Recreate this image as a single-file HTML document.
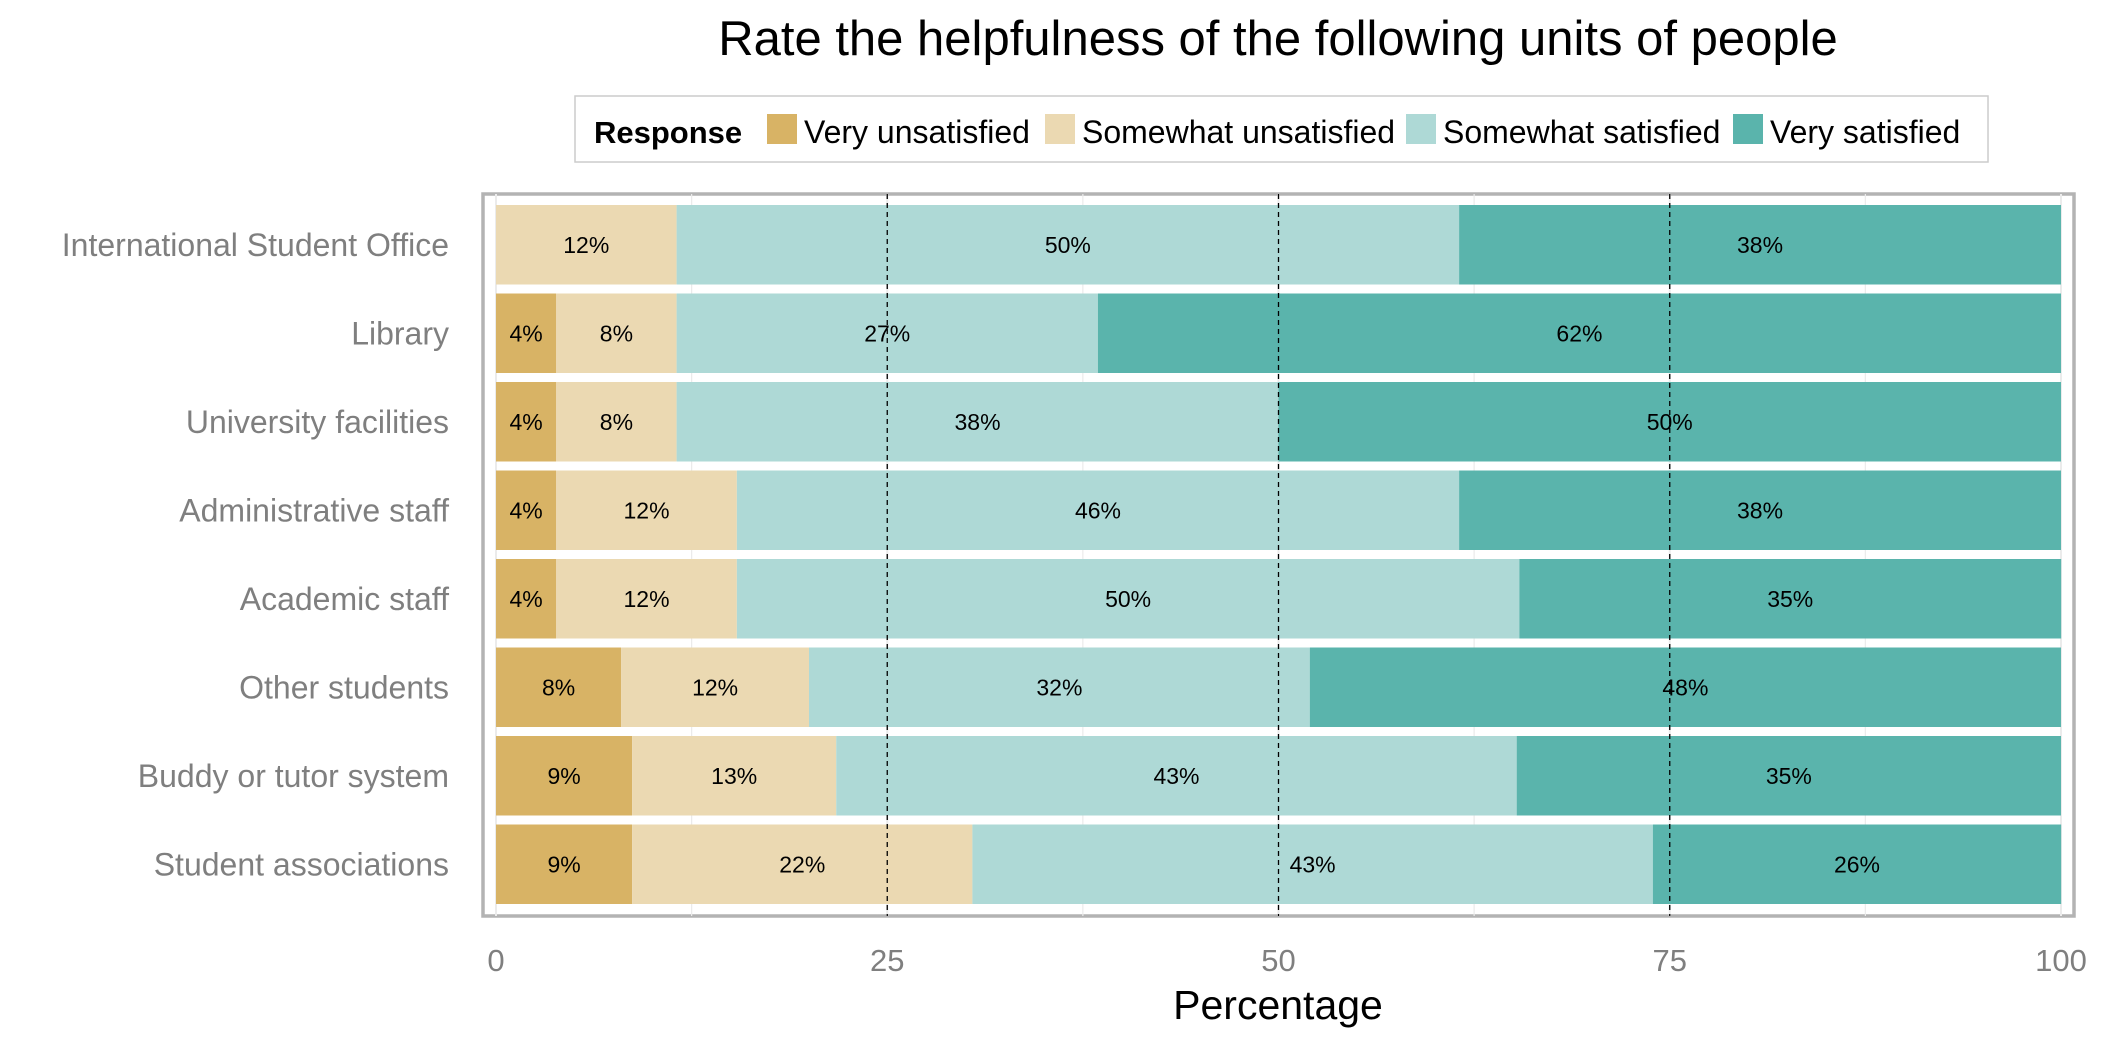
<!DOCTYPE html>
<html><head><meta charset="utf-8"><style>
html,body{margin:0;padding:0;background:#fff;}
svg{display:block;font-family:"Liberation Sans",Arial,sans-serif;}
</style></head><body>
<svg id="chart" width="2125" height="1051" viewBox="0 0 2125 1051">
<text x="1278" y="55" font-size="49" text-anchor="middle" fill="#000">Rate the helpfulness of the following units of people</text>
<g>
<rect x="575" y="96" width="1413" height="66" fill="#fff" stroke="#ccc" stroke-width="1.5"/>
<text x="594" y="143" font-size="31" font-weight="bold">Response</text>
</g>
<g id="panel"></g>
</svg>
<script>
const categories = ["International Student Office","Library","University facilities","Administrative staff","Academic staff","Other students","Buddy or tutor system","Student associations"];
const seriesNames = ["Very unsatisfied","Somewhat unsatisfied","Somewhat satisfied","Very satisfied"];
const veryUnsatisfied = [0, 3.85, 3.85, 3.85, 3.85, 8.0, 8.7, 8.7];
const somewhatUnsatisfied = [11.54, 7.69, 7.69, 11.54, 11.54, 12.0, 13.04, 21.74];
const somewhatSatisfied = [50.0, 26.92, 38.46, 46.15, 50.0, 32.0, 43.48, 43.48];
const verySatisfied = [38.46, 61.54, 50.0, 38.46, 34.62, 48.0, 34.78, 26.09];
const xTicks = [0, 25, 50, 75, 100];
const refLines = [25, 50, 75];
const colors = ["#d8b365","#ebd9b2","#aed9d6","#5ab4ac"];

const NS = "http://www.w3.org/2000/svg";
const g = document.getElementById("panel");
const X0 = 496, X1 = 2061;
const xs = v => X0 + (X1 - X0) * v / 100;
const barTop = 205, pitch = 88.5, barH = 79.5;
const yb = i => barTop + i * pitch;
function mk(tag, attrs, parent){const e=document.createElementNS(NS,tag);for(const k in attrs)e.setAttribute(k,attrs[k]);(parent||g).appendChild(e);return e;}

const legendX = [767, 1045, 1406, 1733];
seriesNames.forEach((n,i)=>{
  const r = mk("rect",{x:legendX[i],y:114,width:30,height:30,fill:colors[i]});
  
  
  const t = mk("text",{x:legendX[i]+37,y:143,"font-size":32,fill:"#000"});
  t.textContent = n;
  
  
});

const border = mk("rect",{x:483,y:194,width:1591,height:722,fill:"none",stroke:"#b3b3b3","stroke-width":3.5});



[0,12.5,25,37.5,50,62.5,75,87.5,100].forEach(v=>{
  const l = mk("line",{x1:xs(v),x2:xs(v),y1:194,y2:916,stroke:"#ebebeb","stroke-width":v%25===0?2:1.2});
  
  
});

const series = [veryUnsatisfied, somewhatUnsatisfied, somewhatSatisfied, verySatisfied];
categories.forEach((c,i)=>{
  let acc = 0;
  series.forEach((s,j)=>{
    const v = s[i];
    if (v > 0) {
      const r = mk("rect",{x:xs(acc),y:yb(i),width:xs(acc+v)-xs(acc),height:barH,fill:colors[j]});
      
      
    }
    acc += v;
  });
  const lab = mk("text",{x:449,y:yb(i)+barH/2+11,"font-size":32,fill:"#7f7f7f","text-anchor":"end"});
  lab.textContent = c;
  
  
});

refLines.forEach(v=>{
  const l = mk("line",{x1:xs(v),x2:xs(v),y1:194,y2:916,stroke:"#000","stroke-width":1.3,"stroke-dasharray":"5,4"});
  
  
});

categories.forEach((c,i)=>{
  let acc = 0;
  series.forEach((s,j)=>{
    const v = s[i];
    if (v > 0) {
      const t = mk("text",{x:(xs(acc)+xs(acc+v))/2,y:yb(i)+barH/2+8,"font-size":23,"text-anchor":"middle",fill:"#000"});
      t.textContent = Math.round(v) + "%";
      
      
    }
    acc += v;
  });
});

xTicks.forEach(v=>{
  const t = mk("text",{x:xs(v),y:971,"font-size":31,fill:"#7f7f7f","text-anchor":"middle"});
  t.textContent = v;
  
  
});
const xt = mk("text",{x:1278,y:1019,"font-size":41,fill:"#000","text-anchor":"middle"});
xt.textContent = "Percentage";


</script>
</body></html>
